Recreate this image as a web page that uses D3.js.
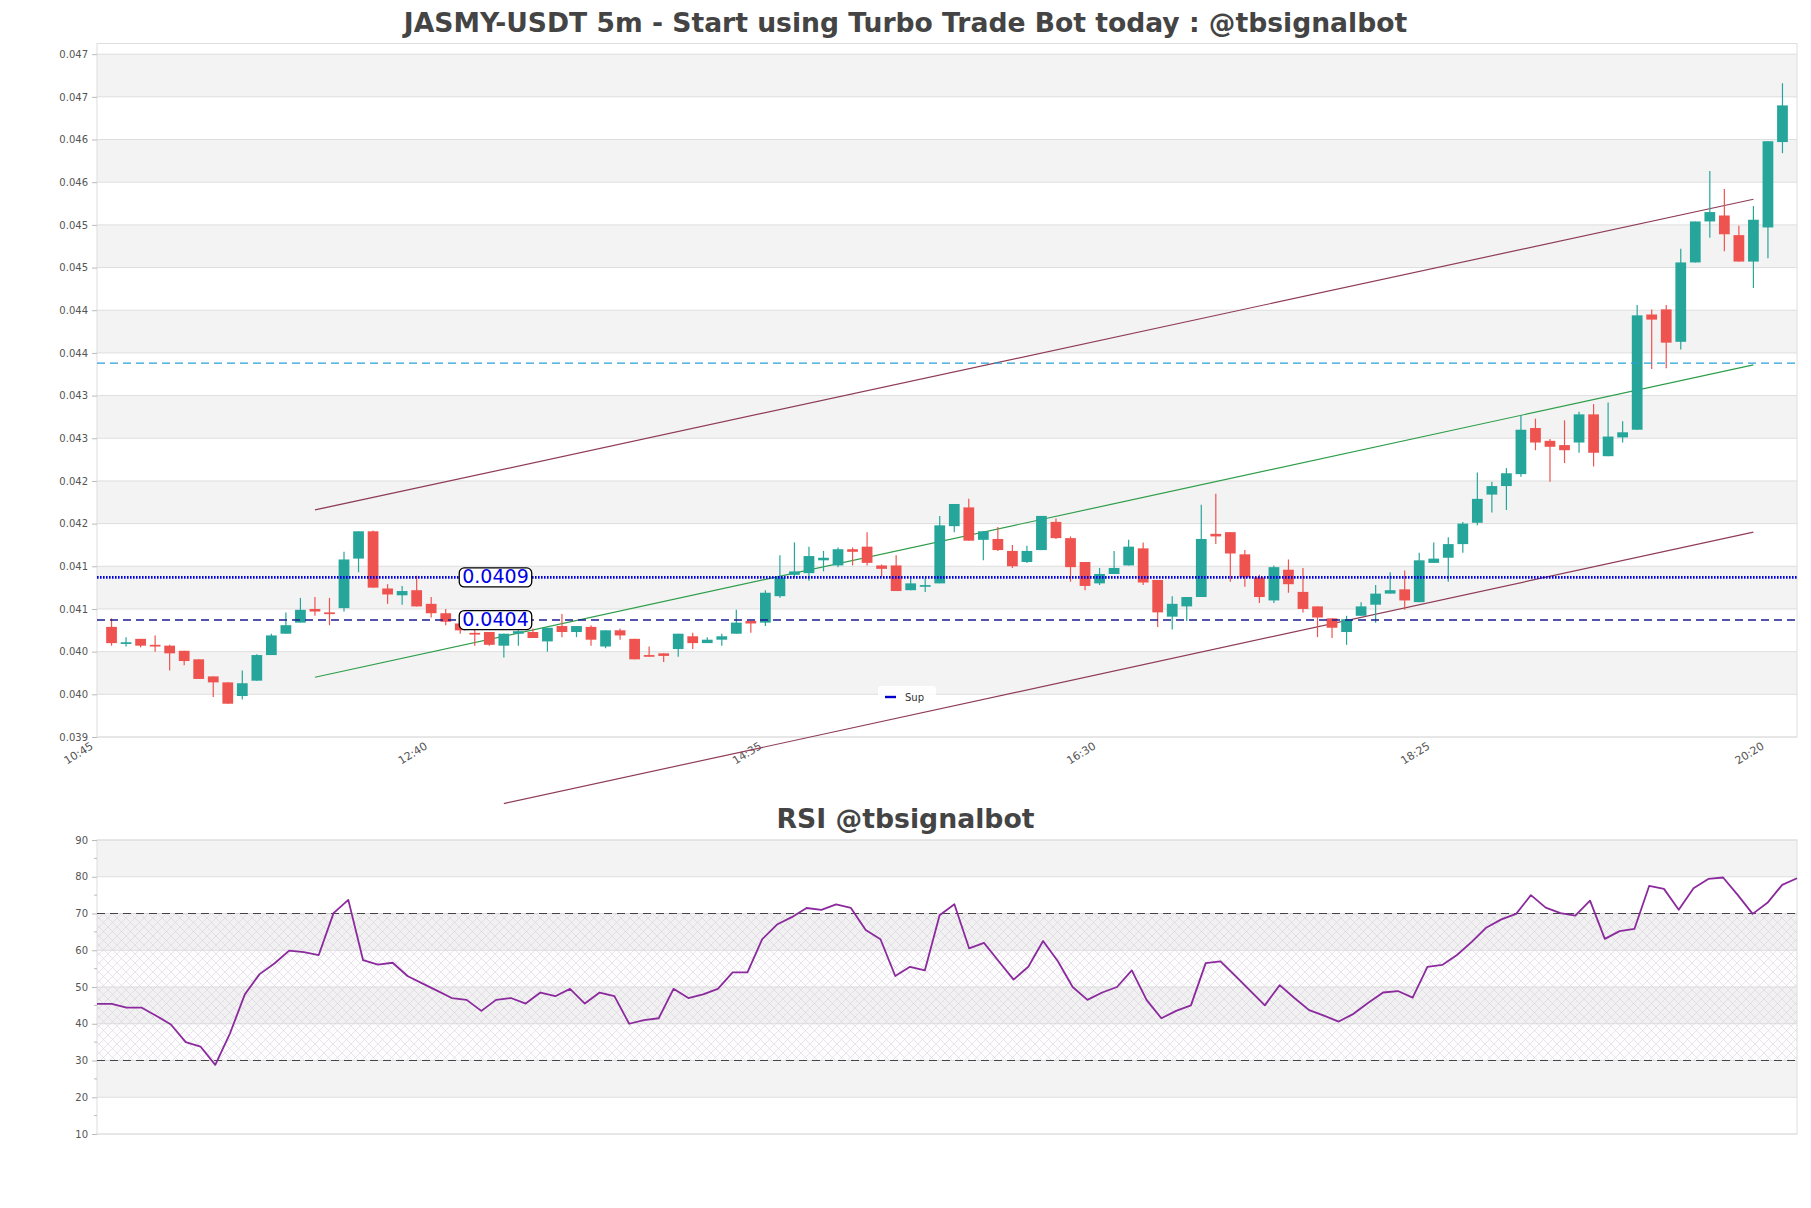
<!DOCTYPE html>
<html><head><meta charset="utf-8">
<script src="https://cdn.jsdelivr.net/npm/d3@7/dist/d3.min.js"></script>
<style>
html,body{margin:0;padding:0;background:#fff;}
svg{display:block;font-family:"DejaVu Sans",sans-serif;}
</style></head><body>
<svg id="chart" width="1811" height="1208"></svg>
<script>
// ---------------- DATA ----------------
const titleText = "JASMY-USDT 5m - Start using Turbo Trade Bot today : @tbsignalbot";
const rsiTitleText = "RSI @tbsignalbot";
const firstCandle = "10:50";      // candles every 5 minutes
const axisStart = "10:45", axisEnd = "20:30";

const opens = [0.04029,0.04009,0.04015,0.04008,0.04007,0.04001,0.03991,0.03971,0.03964,0.03948,
0.03966,0.03996,0.04021,0.04034,0.04050,0.04046,0.04051,0.04109,0.04141,0.04074,
0.04066,0.04072,0.04056,0.04045,0.04033,0.04022,0.04023,0.04007,0.04021,0.04023,
0.04012,0.04030,0.04023,0.04029,0.04006,0.04025,0.04015,0.03996,0.03998,0.04003,
0.04018,0.04010,0.04014,0.04021,0.04036,0.04034,0.04065,0.04090,0.04092,0.04107,
0.04101,0.04120,0.04123,0.04101,0.04101,0.04072,0.04076,0.04080,0.04147,0.04169,
0.04131,0.04132,0.04118,0.04105,0.04119,0.04152,0.04133,0.04105,0.04080,0.04091,
0.04101,0.04121,0.04084,0.04041,0.04053,0.04064,0.04138,0.04140,0.04114,0.04087,
0.04060,0.04096,0.04070,0.04053,0.04039,0.04023,0.04042,0.04055,0.04068,0.04073,
0.04058,0.04104,0.04110,0.04126,0.04151,0.04184,0.04194,0.04208,0.04262,0.04247,
0.04242,0.04245,0.04278,0.04229,0.04251,0.04260,0.04395,0.04401,0.04363,0.04456,
0.04504,0.04511,0.04488,0.04457,0.04497,0.04597];
const highs = [0.04039,0.04017,0.04015,0.04019,0.04008,0.04001,0.03991,0.03971,0.03964,0.03978,
0.03997,0.04021,0.04046,0.04063,0.04064,0.04063,0.04117,0.04141,0.04142,0.04079,
0.04077,0.04089,0.04064,0.04050,0.04035,0.04029,0.04023,0.04021,0.04025,0.04027,
0.04028,0.04044,0.04030,0.04031,0.04025,0.04027,0.04015,0.04006,0.03998,0.04021,
0.04022,0.04017,0.04021,0.04049,0.04036,0.04072,0.04113,0.04128,0.04123,0.04118,
0.04122,0.04122,0.04140,0.04102,0.04113,0.04086,0.04086,0.04159,0.04173,0.04179,
0.04141,0.04146,0.04125,0.04124,0.04159,0.04156,0.04135,0.04105,0.04098,0.04118,
0.04131,0.04128,0.04084,0.04065,0.04064,0.04172,0.04185,0.04140,0.04119,0.04090,
0.04101,0.04108,0.04098,0.04053,0.04039,0.04042,0.04058,0.04078,0.04093,0.04095,
0.04116,0.04128,0.04134,0.04152,0.04210,0.04199,0.04215,0.04277,0.04273,0.04249,
0.04271,0.04281,0.04290,0.04292,0.04270,0.04406,0.04401,0.04406,0.04472,0.04504,
0.04563,0.04542,0.04499,0.04522,0.04598,0.04666];
const lows = [0.04007,0.04006,0.04005,0.04000,0.03978,0.03984,0.03968,0.03947,0.03939,0.03944,
0.03966,0.03996,0.04021,0.04034,0.04042,0.04031,0.04047,0.04093,0.04075,0.04056,
0.04055,0.04053,0.04040,0.04031,0.04021,0.04007,0.04007,0.03993,0.04007,0.04016,
0.04000,0.04017,0.04017,0.04007,0.04004,0.04014,0.03991,0.03994,0.03988,0.03994,
0.04003,0.04010,0.04007,0.04021,0.04022,0.04030,0.04063,0.04087,0.04083,0.04094,
0.04099,0.04101,0.04101,0.04088,0.04071,0.04072,0.04070,0.04080,0.04140,0.04130,
0.04107,0.04118,0.04098,0.04104,0.04119,0.04132,0.04082,0.04072,0.04078,0.04091,
0.04101,0.04078,0.04029,0.04026,0.04036,0.04064,0.04126,0.04082,0.04076,0.04057,
0.04057,0.04069,0.04046,0.04017,0.04016,0.04008,0.04042,0.04034,0.04068,0.04049,
0.04058,0.04104,0.04082,0.04116,0.04148,0.04163,0.04166,0.04205,0.04236,0.04199,
0.04221,0.04233,0.04217,0.04229,0.04245,0.04260,0.04331,0.04332,0.04354,0.04456,
0.04485,0.04469,0.04457,0.04426,0.04461,0.04584];
const closes = [0.04010,0.04011,0.04007,0.04006,0.03998,0.03989,0.03968,0.03964,0.03939,0.03963,
0.03996,0.04019,0.04031,0.04049,0.04047,0.04044,0.04108,0.04141,0.04075,0.04067,
0.04071,0.04053,0.04045,0.04035,0.04025,0.04020,0.04008,0.04021,0.04024,0.04016,
0.04028,0.04023,0.04030,0.04014,0.04025,0.04019,0.03991,0.03994,0.03995,0.04021,
0.04010,0.04014,0.04018,0.04034,0.04033,0.04069,0.04087,0.04094,0.04112,0.04110,
0.04120,0.04117,0.04104,0.04097,0.04071,0.04080,0.04078,0.04148,0.04173,0.04130,
0.04141,0.04119,0.04100,0.04118,0.04159,0.04133,0.04099,0.04077,0.04091,0.04098,
0.04123,0.04081,0.04046,0.04056,0.04064,0.04132,0.04135,0.04115,0.04087,0.04064,
0.04099,0.04079,0.04050,0.04040,0.04028,0.04038,0.04053,0.04068,0.04072,0.04060,
0.04107,0.04109,0.04126,0.04150,0.04179,0.04194,0.04209,0.04260,0.04245,0.04240,
0.04236,0.04278,0.04233,0.04252,0.04257,0.04394,0.04389,0.04362,0.04456,0.04504,
0.04515,0.04489,0.04457,0.04506,0.04598,0.04640];

const rsiValues = [45.4,45.4,44.4,44.4,42.2,39.8,35.0,33.8,28.8,37.4,
48.0,53.5,56.4,59.9,59.5,58.7,70.1,73.7,57.3,56.1,
56.6,53.0,51.0,49.0,47.0,46.5,43.5,46.5,47.0,45.5,
48.5,47.5,49.5,45.5,48.5,47.5,40.0,41.0,41.5,49.5,
47.0,48.0,49.5,54.0,54.0,63.0,67.0,69.0,71.5,71.0,
72.5,71.5,65.5,63.0,53.0,55.5,54.5,69.5,72.5,60.5,
62.0,57.0,52.0,55.5,62.5,57.0,50.0,46.5,48.5,50.0,
54.5,46.5,41.5,43.5,45.0,56.5,57.0,53.0,49.0,45.0,
50.5,47.0,43.7,42.2,40.6,42.7,45.7,48.5,48.9,47.1,
55.5,56.0,58.7,62.3,66.2,68.4,69.9,75.0,71.6,70.1,
69.4,73.5,63.1,65.2,65.8,77.5,76.7,71.0,76.9,79.4,
79.8,75.0,69.9,72.9,77.8,79.6];

const priceTicks = [0.039,0.0395,0.040,0.0405,0.041,0.0415,0.042,0.0425,0.043,0.0435,0.044,0.0445,0.045,0.0455,0.046,0.0465,0.047];
const priceTickLabels = ["0.039","0.040","0.040","0.041","0.041","0.042","0.042","0.043","0.043","0.044","0.044","0.045","0.045","0.046","0.046","0.047","0.047"];
const priceTop = 0.047125;
const timeTickLabels = ["10:45","12:40","14:35","16:30","18:25","20:20"];
const rsiTicks = [10,20,30,40,50,60,70,80,90];
const rsiMinorTicks = [15,25,35,45,55,65,75,85];
const rsiLevels = [70,30];

const supLevels = [0.04087, 0.04037];
const supLabels = ["0.0409","0.0404"];
const supLabelTime = "12:50";
const resistanceLevel = 0.04338;

const trendT0 = ["12:00","12:00","13:05"];
const trendP0 = [0.04166,0.03970,0.03822];
const trendT1 = ["20:15","20:15","20:15"];
const trendP1 = [0.04530,0.04336,0.04140];
const trendColors = ["#8e3d55","#2e9e4a","#8e3d55"];

const legendLabel = "Sup";

// ---------------- CHART ----------------
const svg = d3.select("#chart");
const plotL = 97, plotR = 1797, mainTop = 43.5, mainBot = 737, rsiTop = 840, rsiBot = 1134;
const parse = d3.timeParse("%H:%M");
const t0 = parse(firstCandle);
const times = opens.map((_, i) => d3.timeMinute.offset(t0, 5 * i));
const candles = times.map((t, i) => ({t, o: opens[i], h: highs[i], l: lows[i], c: closes[i]}));

const x = d3.scaleTime().domain([parse(axisStart), parse(axisEnd)]).range([plotL, plotR]);
const y = d3.scaleLinear().domain([priceTicks[0], priceTop]).range([mainBot, mainTop]);
const xr = d3.scaleLinear().domain([0, rsiValues.length - 1]).range([plotL, plotR]);
const yr = d3.scaleLinear().domain([10, 90]).range([rsiBot, rsiTop]);

const gridCol = "#dedede", bandCol = "#f3f3f3", textCol = "#555";

// title
svg.append("text").attr("x", 905.5).attr("y", 32).attr("text-anchor", "middle")
  .attr("font-weight", "bold").attr("font-size", 26.6).attr("fill", "#444").text(titleText);

// main bands
const gMain = svg.append("g");
for (let i = 1; i < priceTicks.length - 1; i += 2) {
  gMain.append("rect").attr("x", plotL).attr("width", plotR - plotL)
    .attr("y", y(priceTicks[i + 1])).attr("height", y(priceTicks[i]) - y(priceTicks[i + 1]))
    .attr("fill", bandCol);
}
gMain.selectAll("line.grid").data(priceTicks).join("line").attr("class", "grid")
  .attr("x1", plotL).attr("x2", plotR).attr("y1", d => y(d)).attr("y2", d => y(d))
  .attr("stroke", gridCol).attr("stroke-width", 1);
gMain.append("rect").attr("x", plotL).attr("y", mainTop).attr("width", plotR - plotL)
  .attr("height", mainBot - mainTop).attr("fill", "none").attr("stroke", gridCol);

// y axis main
const yAxis = d3.axisLeft(y).tickValues(priceTicks).tickSize(5).tickPadding(4)
  .tickFormat((d, i) => priceTickLabels[i]);
const gy = svg.append("g").attr("transform", `translate(${plotL},0)`).call(yAxis);
gy.select(".domain").remove();
gy.selectAll("line").attr("stroke", "#bbb");
gy.selectAll("text").attr("font-size", 10).attr("fill", textCol).attr("font-family", "DejaVu Sans");

// x axis labels
const xt = timeTickLabels.map(parse);
const gx = svg.append("g");
gx.selectAll("text").data(xt).join("text")
  .attr("transform", d => `translate(${x(d) - 3},${mainBot + 11}) rotate(-32)`)
  .attr("text-anchor", "end").attr("font-size", 11).attr("fill", textCol)
  .text((d, i) => timeTickLabels[i]);

// trend lines
trendT0.forEach((t, i) => {
  svg.append("line")
    .attr("x1", x(parse(t))).attr("y1", y(trendP0[i]))
    .attr("x2", x(parse(trendT1[i]))).attr("y2", y(trendP1[i]))
    .attr("stroke", trendColors[i]).attr("stroke-width", 1.2);
});

// candles
const step = x(d3.timeMinute.offset(t0, 5)) - x(t0);
const bw = step * 0.74;
const up = "#26a69a", dn = "#ef5350";
const gc = svg.append("g");
gc.selectAll("line.wick").data(candles).join("line").attr("class", "wick")
  .attr("x1", d => x(d.t)).attr("x2", d => x(d.t))
  .attr("y1", d => y(d.h)).attr("y2", d => y(d.l))
  .attr("stroke", d => d.c >= d.o ? up : dn).attr("stroke-width", 1.2);
gc.selectAll("rect.body").data(candles).join("rect").attr("class", "body")
  .attr("x", d => x(d.t) - bw / 2).attr("width", bw)
  .attr("y", d => y(Math.max(d.o, d.c)))
  .attr("height", d => Math.max(1.5, Math.abs(y(d.o) - y(d.c))))
  .attr("fill", d => d.c >= d.o ? up : dn);

// level lines
svg.append("line").attr("x1", plotL).attr("x2", plotR)
  .attr("y1", y(supLevels[0])).attr("y2", y(supLevels[0]))
  .attr("stroke", "#0000e0").attr("stroke-width", 2.8).attr("stroke-dasharray", "1.6,1.4");
svg.append("line").attr("x1", plotL).attr("x2", plotR)
  .attr("y1", y(supLevels[1])).attr("y2", y(supLevels[1]))
  .attr("stroke", "#1c1c8f").attr("stroke-width", 1.5).attr("stroke-dasharray", "8,5");
svg.append("line").attr("x1", plotL).attr("x2", plotR)
  .attr("y1", y(resistanceLevel)).attr("y2", y(resistanceLevel))
  .attr("stroke", "#2aa0d8").attr("stroke-width", 1.3).attr("stroke-dasharray", "8,5");

// level labels
supLevels.forEach((v, i) => {
  const g = svg.append("g");
  const tx = g.append("text").attr("x", x(parse(supLabelTime)) + 2).attr("y", y(v))
    .attr("dy", "0.3em").attr("font-size", 19).attr("fill", "#0000e6").text(supLabels[i]);
  const bb = tx.node().getBBox();
  g.insert("rect", "text").attr("x", bb.x - 3).attr("y", y(v) - 9.5)
    .attr("width", bb.width + 6).attr("height", 19).attr("rx", 5)
    .attr("fill", "#fff").attr("stroke", "#000").attr("stroke-width", 1.3);
});

// legend
const lg = svg.append("g").attr("transform", `translate(878,686)`);
lg.append("rect").attr("width", 58).attr("height", 21).attr("rx", 3).attr("fill", "#fff").attr("opacity", 0.85);
lg.append("line").attr("x1", 7).attr("x2", 18).attr("y1", 11).attr("y2", 11)
  .attr("stroke", "#0000cd").attr("stroke-width", 2.4);
lg.append("text").attr("x", 27).attr("y", 14.5).attr("font-size", 10).attr("fill", "#333").text(legendLabel);

// ---------------- RSI ----------------
svg.append("text").attr("x", 905.5).attr("y", 828).attr("text-anchor", "middle")
  .attr("font-weight", "bold").attr("font-size", 26.7).attr("fill", "#444").text(rsiTitleText);

const defs = svg.append("defs");
const pat = defs.append("pattern").attr("id", "hatch").attr("patternUnits", "userSpaceOnUse")
  .attr("width", 9).attr("height", 9);
pat.append("path").attr("d", "M0,0 L9,9 M9,0 L0,9 M-1,8 L1,10 M8,-1 L10,1")
  .attr("stroke", "#d6cedc").attr("stroke-width", 0.55).attr("fill", "none");

const gR = svg.append("g");
for (let i = 1; i < rsiTicks.length - 1; i += 2) {
  gR.append("rect").attr("x", plotL).attr("width", plotR - plotL)
    .attr("y", yr(rsiTicks[i + 1])).attr("height", yr(rsiTicks[i]) - yr(rsiTicks[i + 1]))
    .attr("fill", bandCol);
}
gR.selectAll("line.grid").data(rsiTicks).join("line").attr("class", "grid")
  .attr("x1", plotL).attr("x2", plotR).attr("y1", d => yr(d)).attr("y2", d => yr(d))
  .attr("stroke", gridCol);
gR.append("rect").attr("x", plotL).attr("width", plotR - plotL)
  .attr("y", yr(rsiLevels[0])).attr("height", yr(rsiLevels[1]) - yr(rsiLevels[0]))
  .attr("fill", "rgba(110,60,130,0.012)");
gR.append("rect").attr("x", plotL).attr("width", plotR - plotL)
  .attr("y", yr(rsiLevels[0])).attr("height", yr(rsiLevels[1]) - yr(rsiLevels[0]))
  .attr("fill", "url(#hatch)");
gR.append("rect").attr("x", plotL).attr("y", rsiTop).attr("width", plotR - plotL)
  .attr("height", rsiBot - rsiTop).attr("fill", "none").attr("stroke", gridCol);
rsiLevels.forEach(v => {
  gR.append("line").attr("x1", plotL).attr("x2", plotR).attr("y1", yr(v)).attr("y2", yr(v))
    .attr("stroke", "#444").attr("stroke-width", 1.2).attr("stroke-dasharray", "8,5");
});

const yrAxis = d3.axisLeft(yr).tickValues(rsiTicks).tickSize(5).tickPadding(4);
const gyr = svg.append("g").attr("transform", `translate(${plotL},0)`).call(yrAxis);
gyr.select(".domain").remove();
gyr.selectAll("line").attr("stroke", "#bbb");
gyr.selectAll("text").attr("font-size", 10).attr("fill", textCol).attr("font-family", "DejaVu Sans");
svg.append("g").selectAll("line").data(rsiMinorTicks).join("line")
  .attr("x1", plotL - 3).attr("x2", plotL).attr("y1", d => yr(d)).attr("y2", d => yr(d))
  .attr("stroke", "#bbb");

const rsiLine = d3.line().x((d, i) => xr(i)).y(d => yr(d));
svg.append("path").datum(rsiValues).attr("d", rsiLine)
  .attr("fill", "none").attr("stroke", "#8b2a9c").attr("stroke-width", 1.8)
  .attr("stroke-linejoin", "round");
</script>
</body></html>
